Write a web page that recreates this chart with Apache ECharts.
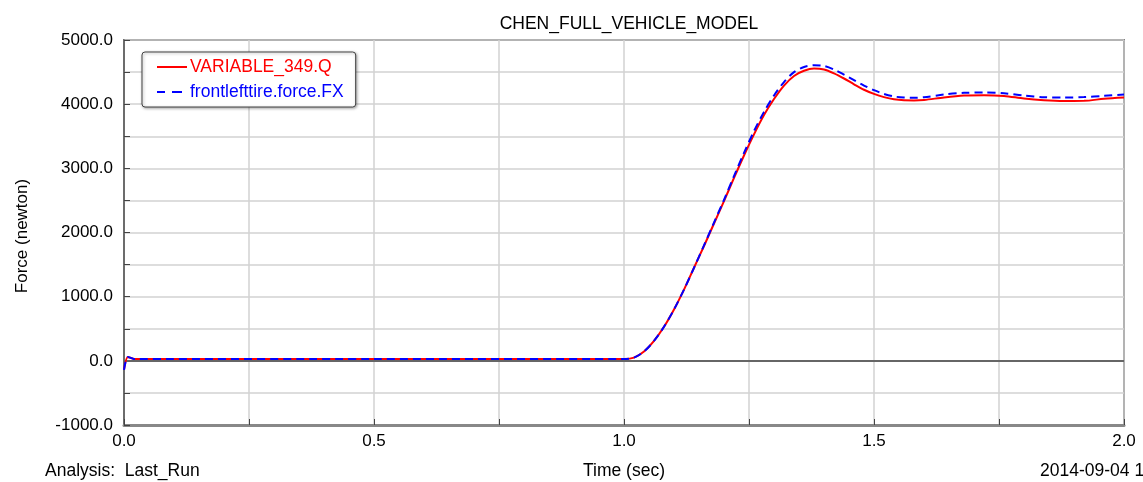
<!DOCTYPE html>
<html>
<head>
<meta charset="utf-8">
<script src="https://cdn.jsdelivr.net/npm/echarts@6/dist/echarts.min.js"></script>
<style>
html,body{margin:0;padding:0;background:#fff;}
#chart{width:1143px;height:482px;}
</style>
</head>
<body>
<div id="chart"></div>
<script>
const chartTitle = 'CHEN_FULL_VEHICLE_MODEL';
const seriesNames = ['VARIABLE_349.Q', 'frontlefttire.force.FX'];
const timeSec = [0, 0.008, 0.02, 0.5, 1.0, 1.02, 1.04, 1.06, 1.08, 1.10, 1.12, 1.14, 1.16, 1.18, 1.20, 1.22, 1.24, 1.26, 1.28, 1.30, 1.32, 1.34, 1.36, 1.38, 1.40, 1.42, 1.44, 1.46, 1.48, 1.50, 1.52, 1.54, 1.56, 1.58, 1.60, 1.64, 1.68, 1.72, 1.76, 1.80, 1.84, 1.88, 1.92, 1.96, 2.0];
const variable349Q = [-140, 60, 30, 30, 30, 50, 145, 310, 530, 800, 1110, 1450, 1790, 2140, 2490, 2850, 3200, 3530, 3830, 4080, 4290, 4440, 4520, 4555, 4540, 4480, 4400, 4310, 4225, 4160, 4110, 4075, 4060, 4058, 4065, 4105, 4134, 4140, 4128, 4088, 4062, 4051, 4052, 4085, 4105];
const frontLeftTireFX = [-140, 60, 30, 30, 30, 50, 145, 310, 530, 800, 1110, 1450, 1800, 2155, 2510, 2880, 3240, 3580, 3880, 4135, 4345, 4500, 4580, 4607, 4595, 4540, 4460, 4375, 4290, 4218, 4160, 4120, 4103, 4100, 4108, 4150, 4176, 4182, 4170, 4133, 4108, 4103, 4110, 4130, 4150];
const xTickLabels = ['0.0', '0.5', '1.0', '1.5', '2.0'];
const yTickLabels = ['-1000.0', '0.0', '1000.0', '2000.0', '3000.0', '4000.0', '5000.0'];
const xAxisTitle = 'Time (sec)';
const yAxisTitle = 'Force (newton)';
const footerLeft = 'Analysis:  Last_Run';
const footerRight = '2014-09-04 14:51:37';

const FONT = 'Liberation Sans, Arial, sans-serif';
const chart = echarts.init(document.getElementById('chart'), null, {renderer: 'canvas'});

function pairs(xs, ys) { return xs.map((x, i) => [x, ys[i]]); }

const option = {
  animation: false,
  backgroundColor: '#fff',
  title: {
    text: chartTitle, left: 624, top: 10, textAlign: 'center',
    textStyle: {fontFamily: FONT, fontSize: 17.5, fontWeight: 'normal', color: '#000'}
  },
  grid: {left: 124, right: 19, top: 40, bottom: 57, show: true, borderColor: '#222', borderWidth: 1.5},
  legend: {
    left: 142, top: 52, orient: 'vertical',
    backgroundColor: '#fff', borderColor: '#444', borderWidth: 1, borderRadius: 3,
    shadowBlur: 3, shadowColor: 'rgba(0,0,0,0.35)', shadowOffsetX: 1, shadowOffsetY: 1,
    padding: [6, 12, 6, 15], itemGap: 7, itemWidth: 30, itemHeight: 14,
    textStyle: {fontFamily: FONT, fontSize: 17.5, padding: [0, 0, 0, -2]},
    data: [
      {name: seriesNames[0], icon: 'path://M0,6 L30,6 L30,8 L0,8 Z', itemStyle: {color: '#ff0000'}, textStyle: {color: '#ff0000'}},
      {name: seriesNames[1], icon: 'path://M0,6 L8,6 L8,8 L0,8 Z M15,6 L25,6 L25,8 L15,8 Z M30,7 L30,7.02 L29.98,7.02 Z', itemStyle: {color: '#0000ff'}, textStyle: {color: '#0000ff'}}
    ]
  },
  xAxis: {
    type: 'value', min: 0, max: 2, interval: 0.25,
    axisLine: {show: true, onZero: false, lineStyle: {color: '#888', width: 3}},
    axisTick: {show: true, inside: true, length: 6, lineStyle: {color: '#444', width: 1}},
    axisLabel: {
      margin: 8, fontFamily: FONT, fontSize: 17, color: '#000',
      formatter: v => { const s = v.toFixed(1); return xTickLabels.includes(s) && Math.abs(v * 2 - Math.round(v * 2)) < 1e-6 ? s : ''; }
    },
    splitLine: {show: true, lineStyle: {color: '#d2d2d2', width: 1.5}}
  },
  yAxis: {
    type: 'value', min: -1000, max: 5000, interval: 500,
    axisLine: {show: true, onZero: false, lineStyle: {color: '#555', width: 1.5}},
    axisTick: {show: true, inside: true, length: 6, lineStyle: {color: '#444', width: 1}},
    axisLabel: {
      margin: 11, fontFamily: FONT, fontSize: 17, color: '#000',
      formatter: v => { const s = v.toFixed(1); return (v % 1000 === 0 && yTickLabels.includes(s)) ? s : ''; }
    },
    splitLine: {show: true, lineStyle: {color: '#d2d2d2', width: 1.5}}
  },
  series: [
    {
      name: seriesNames[0], type: 'line', data: pairs(timeSec, variable349Q),
      showSymbol: false, symbol: 'none', smooth: 0.3,
      lineStyle: {color: '#ff0000', width: 2}, itemStyle: {color: '#ff0000'}, z: 3,
      markLine: {
        silent: true, symbol: 'none', label: {show: false},
        lineStyle: {color: '#666', width: 2, type: 'solid'},
        data: [{yAxis: 0}], z: 1
      }
    },
    {
      name: seriesNames[1], type: 'line', data: pairs(timeSec, frontLeftTireFX),
      showSymbol: false, symbol: 'none', smooth: 0.3,
      lineStyle: {color: '#0000ff', width: 2, type: [8, 5]}, itemStyle: {color: '#0000ff'}, z: 4
    }
  ],
  graphic: [
    {type: 'text', x: 22, y: 236, rotation: Math.PI / 2,
     style: {text: yAxisTitle, font: '17px ' + FONT, fill: '#000', textAlign: 'center', textVerticalAlign: 'middle'}},
    {type: 'text', x: 624, y: 471,
     style: {text: xAxisTitle, font: '17.5px ' + FONT, fill: '#000', textAlign: 'center', textVerticalAlign: 'middle'}},
    {type: 'text', x: 45, y: 471,
     style: {text: footerLeft, font: '17.5px ' + FONT, fill: '#000', textAlign: 'left', textVerticalAlign: 'middle'}},
    {type: 'text', x: 1040, y: 471,
     style: {text: footerRight, font: '17.5px ' + FONT, fill: '#000', textAlign: 'left', textVerticalAlign: 'middle'}}
  ]
};
chart.setOption(option);
</script>
</body>
</html>
